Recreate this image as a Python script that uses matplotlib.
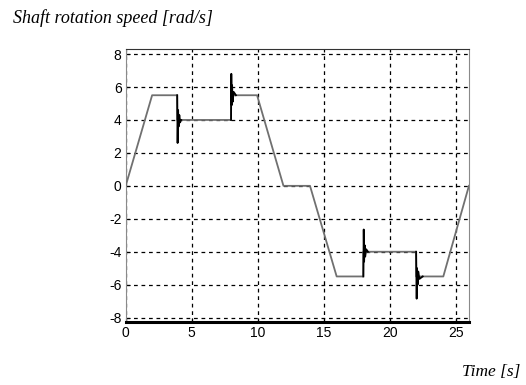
import matplotlib

matplotlib.use("Agg")
import matplotlib.pyplot as plt

# ---- data (time [s], shaft speed [rad/s]) ---------------------------------
# main profile: ramps and plateaus
t_main = [0.0, 2.0, 3.9, 3.9, 4.2, 7.98, 7.98, 8.35, 9.95, 11.95, 13.96,
          15.98, 18.0, 18.0, 18.35, 22.0, 22.0, 22.5, 24.06, 26.0]
w_main = [0.0, 5.5, 5.5, 4.0, 4.0, 4.0, 5.5, 5.5, 5.5, 0.0, 0.0,
          -5.5, -5.5, -4.0, -4.0, -4.0, -5.5, -5.5, -5.5, 0.0]

# switching transients (black spikes)
t_sw1 = [3.9, 3.93, 3.97, 4.01, 4.06, 4.12, 4.2]
w_sw1 = [5.5, 2.6, 4.6, 3.6, 4.3, 3.85, 4.0]
t_sw2 = [7.98, 8.0, 8.03, 8.06, 8.1, 8.18, 8.35]
w_sw2 = [4.0, 6.8, 4.9, 6.1, 5.1, 5.7, 5.5]
t_sw3 = [18.0, 18.03, 18.06, 18.1, 18.14, 18.22, 18.35]
w_sw3 = [-5.5, -2.65, -4.6, -3.6, -4.3, -3.85, -4.0]
t_sw4 = [22.0, 22.04, 22.07, 22.11, 22.16, 22.25, 22.5]
w_sw4 = [-4.0, -6.85, -5.0, -6.0, -5.2, -5.65, -5.5]

XTICKS = [0, 5, 10, 15, 20, 25]
YTICKS = [-8, -6, -4, -2, 0, 2, 4, 6, 8]

GREY_LINE = "#707070"
SERIF = ["Liberation Serif", "DejaVu Serif"]
SANS = ["Liberation Sans", "DejaVu Sans"]

plt.rcParams["axes.unicode_minus"] = False  # reference uses short hyphens

fig = plt.figure(figsize=(5.26, 3.85), dpi=100, facecolor="white")
ax = fig.add_axes([0.239, 0.163, 0.6525, 0.709])

ax.plot(t_main, w_main, color=GREY_LINE, lw=1.3, zorder=3)
for tt, ww in ((t_sw1, w_sw1), (t_sw2, w_sw2), (t_sw3, w_sw3), (t_sw4, w_sw4)):
    ax.plot(tt, ww, color="black", lw=1.3, zorder=4)

ax.set_xlim(0, 26)
ax.set_ylim(-8.28, 8.29)
ax.set_xticks(XTICKS)
ax.set_yticks(YTICKS)
ax.grid(True, color="black", linestyle=(0, (3, 3)), lw=0.9)
ax.tick_params(direction="in", length=3, width=0.8, labelsize=10, pad=3)
for lab in ax.get_xticklabels() + ax.get_yticklabels():
    lab.set_family(SANS)

for side in ("left", "right"):
    ax.spines[side].set_color("#8a8a8a")
    ax.spines[side].set_linewidth(0.8)
ax.spines["top"].set_color("#333333")
ax.spines["top"].set_linewidth(0.8)
ax.spines["bottom"].set_color("black")
ax.spines["bottom"].set_linewidth(2.2)

fig.text(0.024, 0.953, "Shaft rotation speed [rad/s]", family=SERIF,
         style="italic", fontsize=13, ha="left", va="center")
fig.text(0.989, 0.035, "Time [s]", family=SERIF, style="italic",
         fontsize=12.5, ha="right", va="center")

fig.savefig("out.png", dpi=100, facecolor="white")
